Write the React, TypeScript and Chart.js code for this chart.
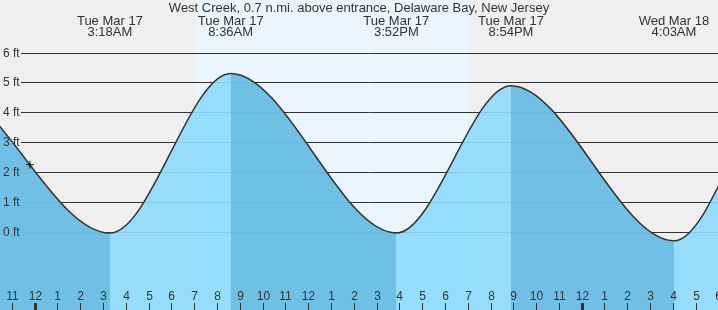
import { useEffect, useRef } from "react";
import { Chart, registerables } from "chart.js";

Chart.register(...registerables);

// ---- data (hours since Tue Mar 17 00:00, heights in ft) ----
const TITLE = "West Creek, 0.7 n.mi. above entrance, Delaware Bay, New Jersey";

// successive high / low waters (first and last lie outside the visible window)
const TIDE_HOURS = [-10.5, -4.15, 3.3, 8.6, 15.867, 20.9, 28.05, 33.05, 40.0];
const TIDE_FEET = [0.0, 4.95, -0.05, 5.3, -0.05, 4.89, -0.31, 5.1, 0.0];

const EVENT_HOURS = [3.3, 8.6, 15.867, 20.9, 28.05];
const EVENT_DAYS = ["Tue Mar 17", "Tue Mar 17", "Tue Mar 17", "Tue Mar 17", "Wed Mar 18"];
const EVENT_CLOCK = ["3:18AM", "8:36AM", "3:52PM", "8:54PM", "4:03AM"];

const DAYLIGHT_HOURS = [7.08, 19.06]; // sunrise, sunset

const NOW_HOURS = [-0.21];
const NOW_FEET = [2.24];

const DEPTH_TICKS = [0, 1, 2, 3, 4, 5, 6];
const DEPTH_LABELS = ["0 ft", "1 ft", "2 ft", "3 ft", "4 ft", "5 ft", "6 ft"];

const HOUR_TICKS = [
  -1, 0, 1, 2, 3, 4, 5, 6, 7, 8, 9, 10, 11, 12, 13, 14, 15, 16, 17, 18, 19, 20,
  21, 22, 23, 24, 25, 26, 27, 28, 29, 30,
];
const HOUR_LABELS = [
  "11", "12", "1", "2", "3", "4", "5", "6", "7", "8", "9", "10", "11", "12",
  "1", "2", "3", "4", "5", "6", "7", "8", "9", "10", "11", "12", "1", "2", "3",
  "4", "5", "6",
];

const X_MIN = -1.523;
const X_MAX = 29.982;
const Y_MIN = -2.63;
const Y_MAX = 7.76;

// ---- styles ----
const NIGHT = "#efefef";
const DAY = "#eaf5fe";
const WATER = "rgba(140,218,253,0.9)";
const EBB_SHADE = "rgba(86,173,214,0.6)";
const CLEAR = "rgba(0,0,0,0)";
const INK = "#333333";
const FONT = '"Liberation Sans", Arial, sans-serif';

const decorPlugin = {
  id: "tideDecor",
  beforeDraw(chart: any) {
    const { ctx, chartArea: a, scales } = chart;
    const x = scales.x;
    ctx.save();
    ctx.fillStyle = NIGHT;
    ctx.fillRect(a.left, a.top, a.right - a.left, a.bottom - a.top);
    const x0 = Math.round(x.getPixelForValue(DAYLIGHT_HOURS[0]));
    const x1 = Math.round(x.getPixelForValue(DAYLIGHT_HOURS[1]));
    ctx.fillStyle = DAY;
    ctx.fillRect(x0, a.top, x1 - x0, a.bottom - a.top);
    ctx.restore();
  },
  beforeDatasetsDraw(chart: any) {
    const { ctx, chartArea: a, scales } = chart;
    const y = scales.y;
    ctx.save();
    ctx.strokeStyle = INK;
    ctx.lineWidth = 1;
    for (const v of DEPTH_TICKS) {
      const py = Math.round(y.getPixelForValue(v)) + 0.5;
      ctx.beginPath();
      ctx.moveTo(21, py);
      ctx.lineTo(a.right, py);
      ctx.stroke();
    }
    ctx.restore();
  },
  afterDatasetsDraw(chart: any) {
    const { ctx, chartArea: a, scales } = chart;
    const x = scales.x;
    const y = scales.y;
    ctx.save();
    ctx.fillStyle = INK;
    ctx.textBaseline = "alphabetic";

    // depth labels
    ctx.font = "12px " + FONT;
    ctx.textAlign = "left";
    DEPTH_TICKS.forEach((v, i) => {
      const py = Math.round(y.getPixelForValue(v));
      ctx.fillText(DEPTH_LABELS[i], 3, py + 4);
    });

    // hour ticks + labels
    ctx.textAlign = "center";
    HOUR_TICKS.forEach((h, i) => {
      const px = Math.round(x.getPixelForValue(h));
      const midnight = ((h % 24) + 24) % 24 === 0;
      if (midnight) ctx.fillRect(px - 1, a.bottom - 7, 3, 7);
      else ctx.fillRect(px, a.bottom - 7, 1, 7);
      ctx.fillText(HOUR_LABELS[i], px + 0.5, a.bottom - 10);
    });

    // event labels
    ctx.font = "13px " + FONT;
    EVENT_HOURS.forEach((h, i) => {
      const px = x.getPixelForValue(h);
      ctx.fillText(EVENT_DAYS[i], px, 25);
      ctx.fillText(EVENT_CLOCK[i], px, 36);
    });

    // title
    ctx.fillText(TITLE, (a.left + a.right) / 2, 12);
    ctx.restore();
  },
};

export default function App() {
  const ref = useRef<HTMLCanvasElement>(null);

  useEffect(() => {
    if (!ref.current) return;
    const tidePoints = TIDE_HOURS.map((h, i) => ({ x: h, y: TIDE_FEET[i] }));
    const chart = new Chart(ref.current, {
      type: "line",
      data: {
        datasets: [
          {
            label: "now",
            data: NOW_HOURS.map((h, i) => ({ x: h, y: NOW_FEET[i] })),
            showLine: false,
            pointStyle: "cross",
            pointRadius: 4,
            pointBorderColor: "#111",
            pointBorderWidth: 1,
            fill: false,
          },
          {
            label: "tide",
            data: tidePoints,
            borderColor: INK,
            borderWidth: 1.5,
            backgroundColor: CLEAR,
            fill: "start",
            pointRadius: 0,
            cubicInterpolationMode: "monotone",
            segment: {
              backgroundColor: (c: any) =>
                c.p1.parsed.y >= c.p0.parsed.y ? CLEAR : EBB_SHADE,
            },
          },
          {
            label: "water",
            data: tidePoints,
            borderWidth: 0,
            borderColor: CLEAR,
            backgroundColor: WATER,
            fill: "start",
            pointRadius: 0,
            cubicInterpolationMode: "monotone",
          },
        ],
      },
      options: {
        animation: false,
        responsive: false,
        maintainAspectRatio: false,
        devicePixelRatio: 1,
        layout: { padding: 0, autoPadding: false },
        events: [],
        plugins: {
          legend: { display: false },
          title: { display: false },
          tooltip: { enabled: false },
        },
        scales: {
          x: { type: "linear", min: X_MIN, max: X_MAX, display: false },
          y: { type: "linear", min: Y_MIN, max: Y_MAX, display: false },
        },
      },
      plugins: [decorPlugin],
    } as any);
    return () => chart.destroy();
  }, []);

  return (
    <div style={{ position: "fixed", left: 0, top: 0, width: 718, height: 310 }}>
      <canvas ref={ref} width={718} height={310} style={{ display: "block" }} />
    </div>
  );
}
